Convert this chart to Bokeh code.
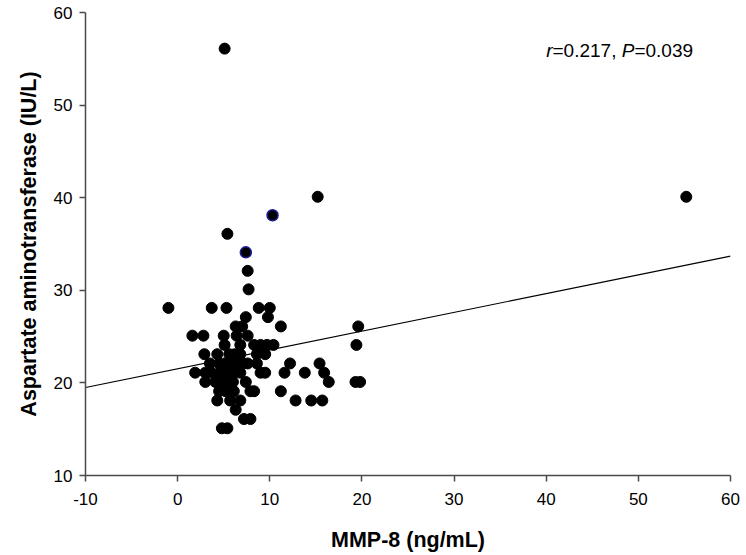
from bokeh.plotting import figure
from bokeh.models import Range1d, Label, FixedTicker
from bokeh.embed import file_html
from bokeh.resources import INLINE

# MMP-8 (ng/mL) and AST (IU/L) values
mmp8 = [5.1, 15.2, 55.2, 5.4, 7.6, 7.7,
        -1.0, 3.7, 5.3, 8.8, 10.0,
        7.4, 9.8,
        6.3, 7.0, 11.2, 19.6,
        1.6, 2.8, 5.0, 6.4, 7.6,
        5.1, 6.8, 8.3, 9.0, 9.7, 10.4, 19.4,
        2.9, 4.3, 6.8, 8.6, 9.5, 5.6, 6.2,
        3.5, 4.5, 5.7, 6.6, 7.6, 8.6, 12.2, 15.4, 5.1, 7.1,
        1.9, 3.0, 3.7, 5.4, 9.0, 9.5, 11.6, 13.8, 15.9, 4.6, 6.1, 6.8,
        3.0, 4.1, 5.4, 7.4, 16.4, 19.3, 19.8, 4.8, 6.0,
        4.5, 6.1, 7.9, 8.3, 11.2, 5.2,
        4.3, 5.7, 6.8, 12.8, 14.5, 15.7,
        6.3,
        7.2, 7.9,
        4.8, 5.4]
ast = [56.1, 40.1, 40.1, 36.1, 32.1, 30.1,
       28.1, 28.1, 28.1, 28.1, 28.1,
       27.1, 27.1,
       26.1, 26.1, 26.1, 26.1,
       25.1, 25.1, 25.1, 25.1, 25.1,
       24.1, 24.1, 24.1, 24.1, 24.1, 24.1, 24.1,
       23.1, 23.1, 23.1, 23.1, 23.1, 23.1, 23.1,
       22.1, 22.1, 22.1, 22.1, 22.1, 22.1, 22.1, 22.1, 22.1, 22.1,
       21.1, 21.1, 21.1, 21.1, 21.1, 21.1, 21.1, 21.1, 21.1, 21.1, 21.1, 21.1,
       20.1, 20.1, 20.1, 20.1, 20.1, 20.1, 20.1, 20.1, 20.1,
       19.1, 19.1, 19.1, 19.1, 19.1, 19.1,
       18.1, 18.1, 18.1, 18.1, 18.1, 18.1,
       17.1,
       16.1, 16.1,
       15.1, 15.1]

# highlighted (blue-edged) points
hl_mmp8 = [10.3, 7.4]
hl_ast = [38.1, 34.1]

# regression line end points
fit_x = [-10, 60]
fit_y = [19.5, 33.7]

x_ticks = [-10, 0, 10, 20, 30, 40, 50, 60]
y_ticks = [10, 20, 30, 40, 50, 60]

FONT = "Liberation Sans"

p = figure(width=746, height=555, output_backend="svg", toolbar_location=None,
           x_range=Range1d(-10, 60), y_range=Range1d(10, 60),
           min_border_left=85, min_border_right=16, min_border_top=12,
           min_border_bottom=80)
p.outline_line_color = None
p.xgrid.visible = False
p.ygrid.visible = False
p.background_fill_color = "white"

p.line(fit_x, fit_y, line_color="black", line_width=1.2)
p.scatter(mmp8, ast, size=11, fill_color="black", line_color="black")
p.scatter(hl_mmp8, hl_ast, size=11, fill_color="black", line_color="#1c1c9c",
          line_width=1.5)

for ax, ticks in ((p.xaxis, x_ticks), (p.yaxis, y_ticks)):
    ax.ticker = FixedTicker(ticks=ticks)
    ax.major_label_overrides = {t: str(t) for t in ticks}
    ax.minor_tick_line_color = None
    ax.axis_line_color = "#4a4a4a"
    ax.axis_line_width = 1.5
    ax.major_tick_line_color = "#4a4a4a"
    ax.major_tick_line_width = 1.5
    ax.major_tick_out = 6
    ax.major_tick_in = 0
    ax.major_label_text_font = FONT
    ax.major_label_text_font_size = "17px"
    ax.major_label_text_color = "black"
    ax.axis_label_text_font = FONT
    ax.axis_label_text_font_style = "bold"
    ax.axis_label_text_font_size = "21.5px"
    ax.axis_label_text_color = "black"

p.xaxis.axis_label = "MMP-8 (ng/mL)"
p.yaxis.axis_label = "Aspartate aminotransferase (IU/L)"
p.xaxis.major_label_standoff = 11
p.yaxis.major_label_standoff = 7
p.xaxis.axis_label_standoff = 20
p.yaxis.axis_label_standoff = 10

# annotation r=0.217, P=0.039 (italic r and P)
parts = [("r", "italic", 0), ("=0.217, ", "normal", 6.3), ("P", "italic", 75.5),
         ("=0.039", "normal", 88.2)]
for txt, style, off in parts:
    p.add_layout(Label(x=40.0, y=55.9, x_offset=off, text=txt,
                       text_font=FONT, text_font_style=style,
                       text_font_size="19px", text_color="black",
                       text_baseline="alphabetic"))

open("out.html", "w").write(file_html(p, INLINE))
